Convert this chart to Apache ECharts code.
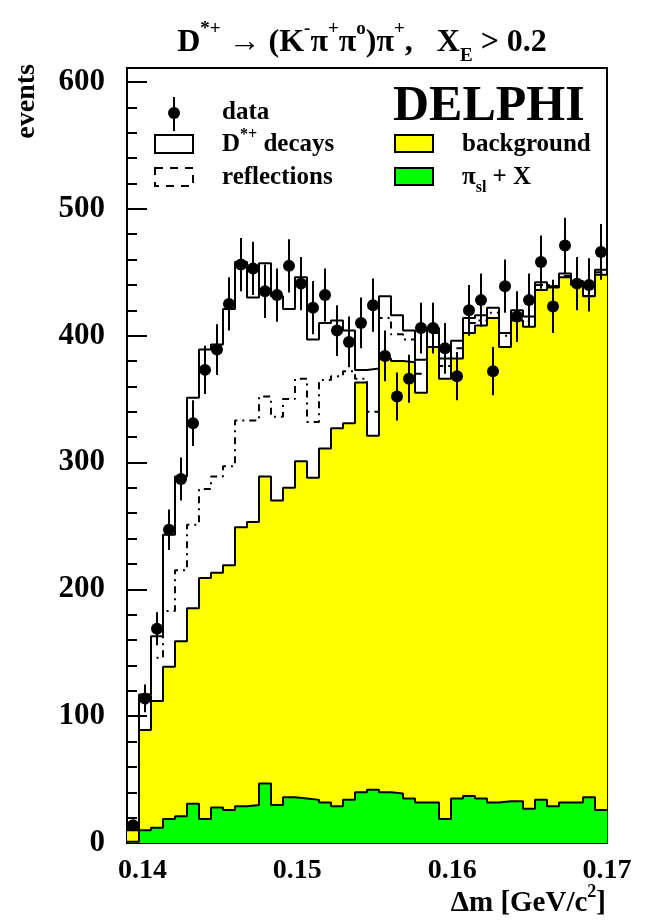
<!DOCTYPE html>
<html><head><meta charset="utf-8">
<script src="https://cdn.jsdelivr.net/npm/echarts@6/dist/echarts.min.js"></script>
<style>html,body{margin:0;padding:0;background:#fff}#c{width:645px;height:922px}</style>
</head><body><div id="c"></div>
<script>
// ---- binning ----
const binLo = 0.139, binWidth = 0.000775, nBins = 40;
// ---- values (events per bin) ----
const dataVals = [14,114,169,247,287,331,373,389,425,456,453,435,432,455,441,422,432,404,395,410,
                  424,384,352,366,406,406,390,368,420,428,372,439,415,428,458,423,471,441,440,466];
const dataErr  = [4,11,13,16,17,18,19,20,21,21,21,21,21,21,21,21,21,20,20,20,
                  21,20,19,19,20,20,20,19,20,21,19,21,20,21,21,21,22,21,21,22];
const totalVals = [10,117,163,243,289,351,389,393,421,458,430,457,431,421,446,397,410,412,404,373,
                   374,431,416,404,381,406,382,396,414,416,422,402,420,415,442,439,449,443,431,452];
const reflVals  = [10,110,146,183,215,251,279,289,297,333,333,352,336,350,366,332,365,368,372,366,
                   340,414,401,397,370,402,376,390,410,412,418,400,412,411,440,439,447,441,431,450];
const bgVals    = [10,89,112,139,159,185,209,213,219,249,253,289,270,280,301,288,311,327,331,363,
                   321,382,380,379,355,391,366,382,402,408,414,391,412,407,436,438,446,440,431,448];
const slVals    = [1,10,12,19,21,31,19,28,26,29,30,47,30,36,35,34,32,29,34,40,
                   42,40,39,35,32,32,19,35,37,35,32,33,33,27,34,29,32,32,36,26];
// ---- axis ticks ----
const xMajorTicks = [0.14, 0.15, 0.16, 0.17];
const xMinorTicks = [0.1425,0.145,0.1475,0.1525,0.155,0.1575,0.1625,0.165,0.1675];
const yMajorTicks = [0,100,200,300,400,500,600];
const yMinorTicks = [20,40,60,80,120,140,160,180,220,240,260,280,320,340,360,380,420,440,460,480,520,540,560,580];
const xMin = 0.139, xMax = 0.17, yMin = 0, yMax = 611;

const edges = [];
for (let k = 0; k <= nBins; k++) edges.push(binLo + k * binWidth);
function stepData(vals) {
  const d = vals.map((v, k) => [edges[k], v]);
  d.push([edges[nBins], vals[nBins - 1]]);
  return d;
}
const pointData = dataVals.map((v, k) => [(edges[k] + edges[k + 1]) / 2, v, dataErr[k]]);

const FONT = 'Liberation Serif';
const chart = echarts.init(document.getElementById('c'), null, {renderer: 'canvas'});

const axisBase = {type: 'value', min: xMin, max: xMax};
const option = {
  animation: false,
  backgroundColor: '#fff',
  grid: {left: 127, right: 38, top: 68, bottom: 79, show: true, borderColor: '#000', borderWidth: 2, backgroundColor: 'transparent'},
  xAxis: [
    Object.assign({}, axisBase, {
      position: 'bottom',
      axisLine: {show: true, lineStyle: {color: '#000', width: 2}},
      axisTick: {show: true, inside: true, length: 20, lineStyle: {color: '#000', width: 2}, customValues: xMajorTicks},
      axisLabel: {show: true, customValues: xMajorTicks, margin: 14, color: '#000', fontFamily: FONT, fontWeight: 'bold', fontSize: 28,
                  formatter: v => v.toFixed(2)},
      splitLine: {show: false}
    }),
    Object.assign({}, axisBase, {
      position: 'bottom',
      axisLine: {show: false},
      axisTick: {show: true, inside: true, length: 10, lineStyle: {color: '#000', width: 2}, customValues: xMinorTicks},
      axisLabel: {show: false},
      splitLine: {show: false}
    })
  ],
  yAxis: [
    {
      type: 'value', min: yMin, max: yMax, position: 'left',
      axisLine: {show: true, lineStyle: {color: '#000', width: 2}},
      axisTick: {show: true, inside: true, length: 20, lineStyle: {color: '#000', width: 2}, customValues: yMajorTicks},
      axisLabel: {show: true, customValues: yMajorTicks, margin: 22, color: '#000', fontFamily: FONT, fontWeight: 'bold', fontSize: 31},
      splitLine: {show: false}
    },
    {
      type: 'value', min: yMin, max: yMax, position: 'left',
      axisLine: {show: false},
      axisTick: {show: true, inside: true, length: 10, lineStyle: {color: '#000', width: 2}, customValues: yMinorTicks},
      axisLabel: {show: false},
      splitLine: {show: false}
    }
  ],
  series: [
    {
      name: 'D*+ decays', type: 'line', step: 'end', data: stepData(totalVals), symbol: 'none',
      lineStyle: {color: '#000', width: 2}, z: 2
    },
    {
      name: 'reflections', type: 'line', step: 'end', data: stepData(reflVals), symbol: 'none',
      lineStyle: {color: '#000', width: 2, type: [7, 5, 2, 5]}, z: 3
    },
    {
      name: 'background', type: 'line', step: 'end', data: stepData(bgVals), symbol: 'none',
      lineStyle: {color: '#000', width: 2}, areaStyle: {color: '#ffff00', opacity: 1}, z: 4
    },
    {
      name: 'pi_sl + X', type: 'line', step: 'end', data: stepData(slVals), symbol: 'none',
      lineStyle: {color: '#000', width: 2}, areaStyle: {color: '#00ff00', opacity: 1}, z: 5
    },
    {
      name: 'data', type: 'custom', data: pointData, z: 10,
      renderItem: function (params, api) {
        const x = api.value(0), y = api.value(1), e = api.value(2);
        const p = api.coord([x, y]);
        const t = api.coord([x, y + e]);
        const b = api.coord([x, y - e]);
        return {type: 'group', children: [
          {type: 'line', shape: {x1: p[0], y1: t[1], x2: p[0], y2: b[1]}, style: {stroke: '#000', lineWidth: 2}},
          {type: 'circle', shape: {cx: p[0], cy: p[1], r: 6}, style: {fill: '#000'}}
        ]};
      }
    }
  ],
  graphic: [
    // title
    {type: 'text', x: 362, y: 43, z: 20,
     style: {text: '{m|D}{sup|*+}{m| \u2192 (K}{sup|-}{m|\u03c0}{sup|+}{m|\u03c0}{sup|o}{m|)\u03c0}{sup|+}{m|,   X}{sub|E}{m| > 0.2}',
       align: 'center', verticalAlign: 'middle',
       rich: {
         m: {fontFamily: FONT, fontWeight: 'bold', fontSize: 32, lineHeight: 46, verticalAlign: 'middle', fill: '#000'},
         sup: {fontFamily: FONT, fontWeight: 'bold', fontSize: 19, lineHeight: 19, verticalAlign: 'top', fill: '#000'},
         sub: {fontFamily: FONT, fontWeight: 'bold', fontSize: 19, lineHeight: 19, verticalAlign: 'bottom', fill: '#000'}
       }}},
    // y-axis title
    {type: 'text', x: 27, y: 64, rotation: Math.PI / 2, z: 20,
     style: {text: 'events', fontFamily: FONT, fontWeight: 'bold', fontSize: 28, fill: '#000', align: 'right', verticalAlign: 'middle'}},
    // x-axis title
    {type: 'text', x: 606, y: 904, z: 20,
     style: {text: '{m|\u0394m [GeV/c}{sup|2}{m|]}', align: 'right', verticalAlign: 'middle',
       rich: {
         m: {fontFamily: FONT, fontWeight: 'bold', fontSize: 29, lineHeight: 42, verticalAlign: 'middle', fill: '#000'},
         sup: {fontFamily: FONT, fontWeight: 'bold', fontSize: 18, lineHeight: 18, verticalAlign: 'top', fill: '#000'}
       }}},
    // DELPHI
    {type: 'text', x: 393, y: 107, z: 20,
     style: {text: 'DELPHI', fontFamily: FONT, fontWeight: 'bold', fontSize: 50, fill: '#000', align: 'left', verticalAlign: 'middle'}},
    // legend: data
    {type: 'line', z: 20, shape: {x1: 174, y1: 97, x2: 174, y2: 131}, style: {stroke: '#000', lineWidth: 2}},
    {type: 'circle', z: 21, shape: {cx: 174, cy: 113, r: 6}, style: {fill: '#000'}},
    {type: 'text', x: 222, y: 113, z: 20, style: {text: 'data', fontFamily: FONT, fontWeight: 'bold', fontSize: 25, fill: '#000', verticalAlign: 'middle'}},
    // legend: D*+ decays
    {type: 'rect', z: 20, shape: {x: 155, y: 135, width: 38, height: 18}, style: {fill: '#fff', stroke: '#000', lineWidth: 2}},
    {type: 'text', x: 222, y: 145, z: 20,
     style: {text: '{m|D}{sup|*+}{m| decays}', verticalAlign: 'middle',
       rich: {
         m: {fontFamily: FONT, fontWeight: 'bold', fontSize: 25, lineHeight: 36, verticalAlign: 'middle', fill: '#000'},
         sup: {fontFamily: FONT, fontWeight: 'bold', fontSize: 16, lineHeight: 16, verticalAlign: 'top', fill: '#000'}
       }}},
    // legend: reflections
    {type: 'rect', z: 20, shape: {x: 155, y: 168, width: 38, height: 18}, style: {fill: '#fff', stroke: '#000', lineWidth: 2, lineDash: [8, 7]}},
    {type: 'text', x: 222, y: 178, z: 20, style: {text: 'reflections', fontFamily: FONT, fontWeight: 'bold', fontSize: 25, fill: '#000', verticalAlign: 'middle'}},
    // legend: background
    {type: 'rect', z: 20, shape: {x: 395, y: 135, width: 38, height: 17}, style: {fill: '#ffff00', stroke: '#000', lineWidth: 2}},
    {type: 'text', x: 462, y: 145, z: 20, style: {text: 'background', fontFamily: FONT, fontWeight: 'bold', fontSize: 25, fill: '#000', verticalAlign: 'middle'}},
    // legend: pi_sl + X
    {type: 'rect', z: 20, shape: {x: 395, y: 168, width: 38, height: 17}, style: {fill: '#00ff00', stroke: '#000', lineWidth: 2}},
    {type: 'text', x: 462, y: 178, z: 20,
     style: {text: '{m|\u03c0}{sub|sl}{m| + X}', verticalAlign: 'middle',
       rich: {
         m: {fontFamily: FONT, fontWeight: 'bold', fontSize: 25, lineHeight: 36, verticalAlign: 'middle', fill: '#000'},
         sub: {fontFamily: FONT, fontWeight: 'bold', fontSize: 16, lineHeight: 16, verticalAlign: 'bottom', fill: '#000'}
       }}}
  ]
};
chart.setOption(option);
</script>
</body></html>
